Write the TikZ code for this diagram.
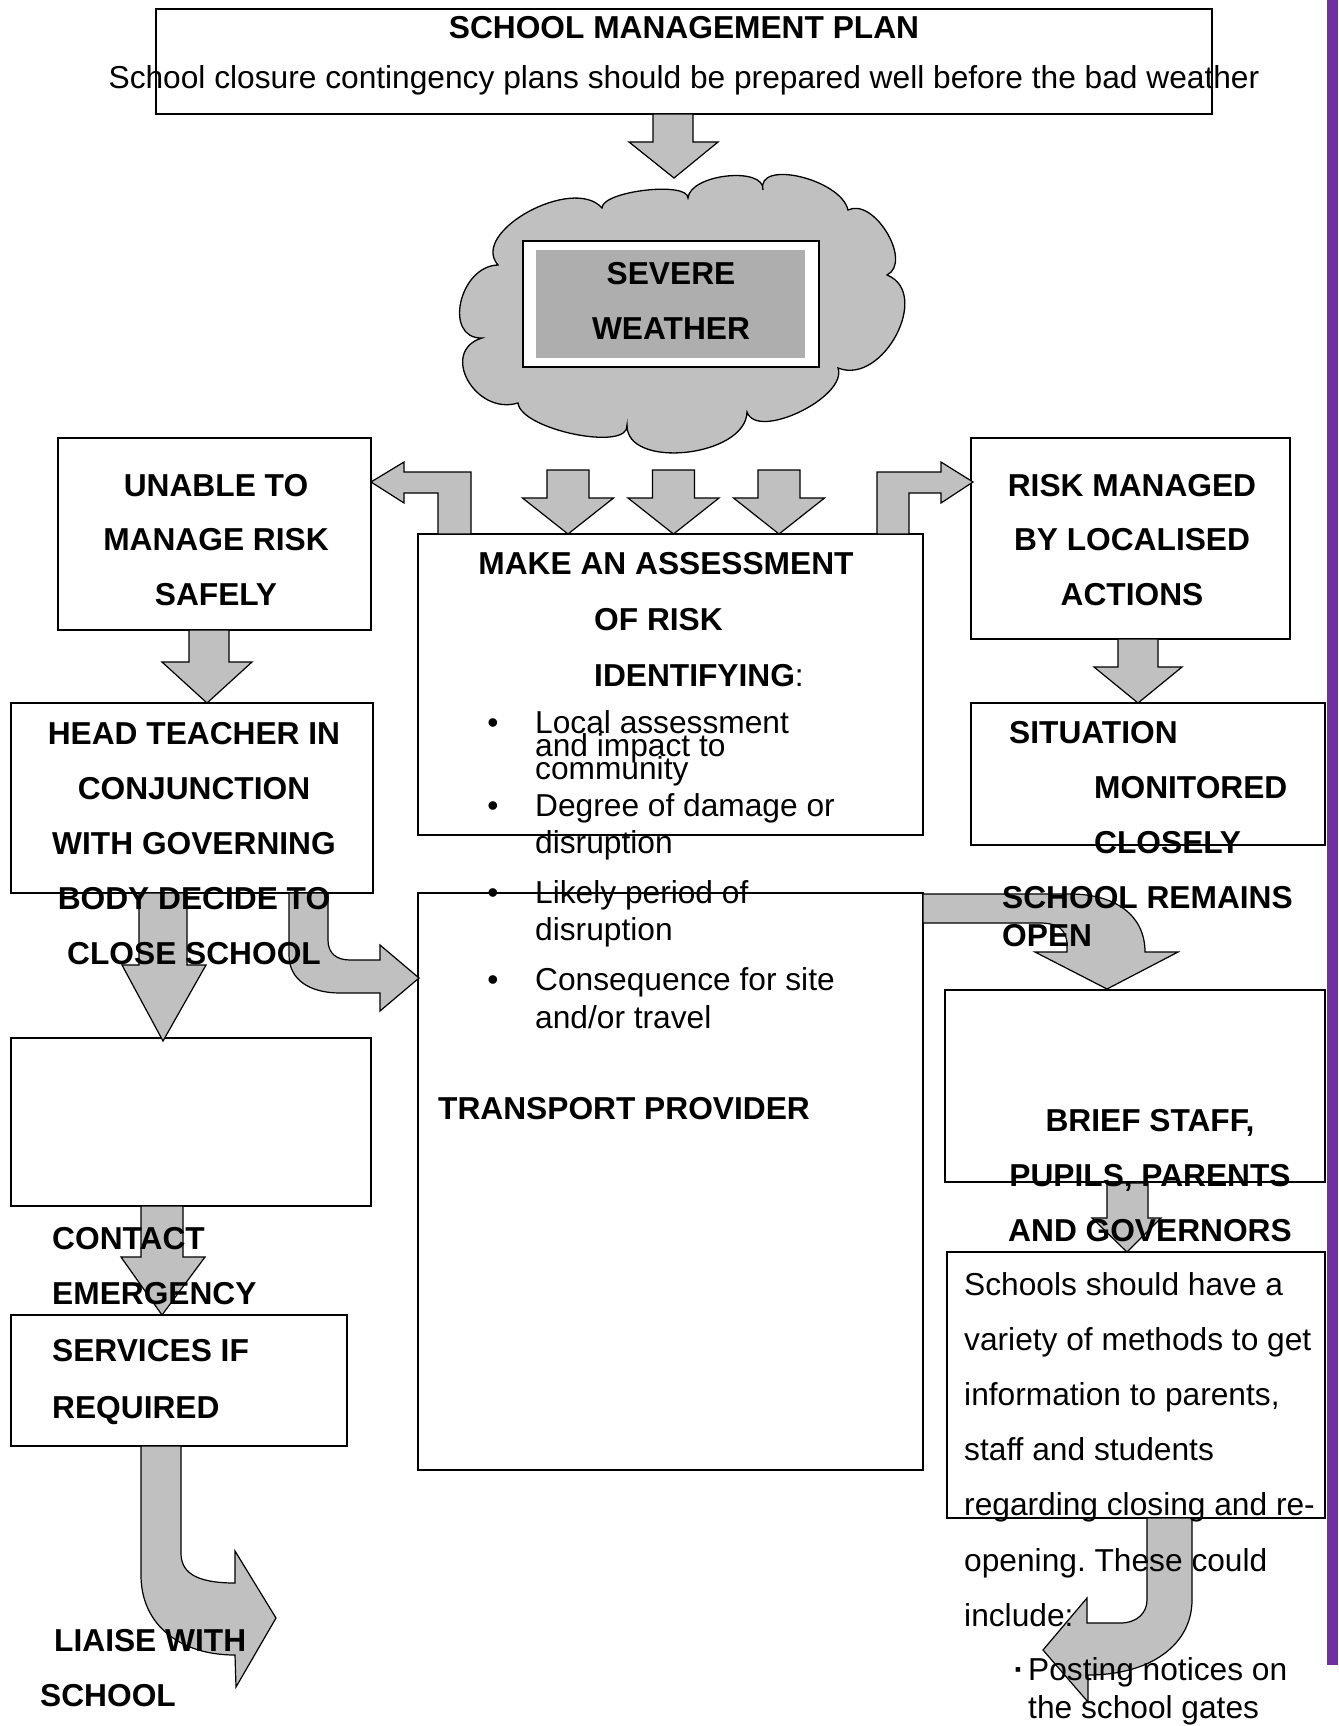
\documentclass[tikz,border=0pt]{standalone}
\usepackage{fontspec}
\setmainfont{Liberation Sans}
\frenchspacing
\newcommand\fsz{\fontsize{31.7}{38}\selectfont}
\definecolor{agray}{HTML}{C0C0C0}
\definecolor{sevgray}{HTML}{AEAEAE}
\definecolor{barpurple}{HTML}{7030A0}
\begin{document}
\begin{tikzpicture}[x=1pt,y=-1pt,
  box/.style={draw=black,line width=1.5pt,inner sep=0pt,outer sep=0pt},
  barrow/.style={fill=agray,draw=black,line width=1.2pt,line join=miter},
  rg/.style={inner sep=0pt,font=\fsz\frenchspacing,anchor=base},
  rgl/.style={rg,anchor=base west},
  bd/.style={inner sep=0pt,font=\fsz\bfseries,anchor=base},
  bdl/.style={bd,anchor=base west}]
\useasboundingbox (0,0) rectangle (1338,1726);
\fill[white] (0,0) rectangle (1338,1726);
\fill[barpurple] (1327,0) rectangle (1338,1665);

% cloud
\path[fill=agray,draw=black,line width=1.3pt]
 (602,208) .. controls (602,191) and (688,181) .. (688,198)
 .. controls (690,174) and (765,166) .. (763,190)
 .. controls (756,159) and (841,179) .. (848,210)
 .. controls (874,197) and (913,262) .. (887,275)
 .. controls (932,293) and (883,386) .. (838,368)
 .. controls (848,397) and (757,441) .. (747,412)
 .. controls (746,457) and (626,470) .. (627,425)
 .. controls (630,452) and (521,430) .. (518,403)
 .. controls (475,416) and (439,351) .. (482,338)
 .. controls (443,339) and (459,266) .. (498,265)
 .. controls (469,232) and (573,175) .. (602,208) -- cycle;
\node[box,fill=white,minimum width=296pt,minimum height=126pt] (sevout) at (671,304) {};
\node[fill=sevgray,inner sep=0pt,minimum width=269pt,minimum height=108pt] (sevin) at (670.5,304) {};

% boxes
\node[box,minimum width=1056pt,minimum height=105pt] (topbox) at (684,61.5) {};
\node[box,minimum width=313pt,minimum height=192pt] (unable) at (214.5,534) {};
\node[box,minimum width=319pt,minimum height=201pt] (riskm) at (1130.5,538.5) {};
\node[box,minimum width=505pt,minimum height=301pt] (assess) at (670.5,684.5) {};
\node[box,minimum width=354pt,minimum height=142pt] (situ) at (1148,774) {};
\node[box,minimum width=362pt,minimum height=190pt] (head) at (192,798) {};
\node[box,minimum width=505pt,minimum height=577pt] (transp) at (670.5,1181.5) {};
\node[box,minimum width=360pt,minimum height=168pt] (empty) at (191,1122) {};
\node[box,minimum width=336pt,minimum height=131pt] (serv) at (179,1380.5) {};
\node[box,minimum width=380pt,minimum height=192pt] (brief) at (1135,1086) {};
\node[box,minimum width=378pt,minimum height=266pt] (schools) at (1136,1385) {};

% block arrows
\path[barrow] (653,114) -- (693,114) -- (693,142) -- (718,142) -- (674,178) -- (629,142) -- (653,142) -- cycle;
\foreach \c in {568,673.5,779}
  \path[barrow] ({\c-21},470) -- ({\c+21},470) -- ({\c+21},498) -- ({\c+45.5},498) -- (\c,534) -- ({\c-45.5},498) -- ({\c-21},498) -- cycle;
\path[barrow] (471,534) -- (471,472) -- (404,472) -- (404,462) -- (371,482) -- (404,503) -- (404,493) -- (438,493) -- (438,534) -- cycle;
\path[barrow] (877,534) -- (877,472) -- (941,472) -- (941,462) -- (973,482) -- (941,503) -- (941,493) -- (909,493) -- (909,534) -- cycle;
\path[barrow] (189,630) -- (229,630) -- (229,662) -- (252,662) -- (207,703) -- (162,662) -- (189,662) -- cycle;
\path[barrow] (1118,639) -- (1158,639) -- (1158,667) -- (1182,667) -- (1138,703) -- (1094,667) -- (1118,667) -- cycle;
\path[barrow] (139,893) -- (187,893) -- (187,965) -- (206,965) -- (163,1041) -- (122,965) -- (139,965) -- cycle;
\path[barrow] (289,893) -- (328,893) -- (328,940) .. controls (328,953) and (336,960) .. (350,960) -- (380,960) -- (380,945) -- (419,978) -- (380,1011) -- (380,993) -- (340,993) .. controls (310,993) and (289,980) .. (289,955) -- cycle;
\path[barrow] (141,1206) -- (183,1206) -- (183,1257) -- (205,1257) -- (162,1315) -- (121,1257) -- (141,1257) -- cycle;
\path[barrow] (141,1446) -- (181,1446) -- (181,1553) .. controls (181,1572) and (195,1583) .. (235,1583) -- (235,1551) -- (276,1618) -- (236,1687) -- (235,1655) .. controls (180,1655) and (141,1625) .. (141,1575) -- cycle;
\path[barrow] (923,894) -- (1070,894) .. controls (1115,894) and (1145,915) .. (1145,952) -- (1178,952) -- (1107,989) -- (1035,952) -- (1067,952) -- (1067,945) .. controls (1067,930) and (1058,923) .. (1040,923) -- (923,923) -- cycle;
\path[barrow] (1107,1183) -- (1148,1183) -- (1148,1218) -- (1161,1218) -- (1127,1252) -- (1092,1218) -- (1107,1218) -- cycle;
\path[barrow] (1147,1518) -- (1192,1518) -- (1192,1600) .. controls (1192,1645) and (1150,1675) .. (1088,1675) -- (1088,1702) -- (1043,1650) -- (1087,1598) -- (1087,1623) -- (1120,1623) .. controls (1138,1623) and (1147,1612) .. (1147,1600) -- cycle;

% texts
\node[bd] (t1) at (684,39) {SCHOOL MANAGEMENT PLAN};
\node[rg] (t2) at (684,89) {School closure contingency plans should be prepared well before the bad weather};
\node[bd] (t3) at (671,284) {SEVERE};
\node[bd] (t4) at (671,339) {WEATHER};
\node[bd] (t5) at (216,496) {UNABLE TO};
\node[bd] (t6) at (216,550) {MANAGE RISK};
\node[bd] (t7) at (216,605) {SAFELY};
\node[bd] (t8) at (1132,496) {RISK MANAGED};
\node[bd] (t9) at (1132,550) {BY LOCALISED};
\node[bd] (t10) at (1132,605) {ACTIONS};
\node[bd] (t11) at (666,574) {MAKE AN ASSESSMENT};
\node[bdl] (t12) at (594,630) {OF RISK};
\node[bdl] (t13) at (594,686) {IDENTIFYING{\mdseries :}};
\node[rg] (b1) at (493,733) {•};
\node[rgl] (t14) at (535,733) {Local assessment};
\node[rgl] (t15) at (535,756) {and impact to};
\node[rgl] (t16) at (535,779) {community};
\node[rg] (b2) at (493,816) {•};
\node[rgl] (t17) at (535,816) {Degree of damage or};
\node[rgl] (t18) at (535,853) {disruption};
\node[rg] (b3) at (493,903) {•};
\node[rgl] (t19) at (535,903) {Likely period of};
\node[rgl] (t20) at (535,940) {disruption};
\node[rg] (b4) at (493,990) {•};
\node[rgl] (t21) at (535,990) {Consequence for site};
\node[rgl] (t22) at (535,1028) {and/or travel};
\node[bdl] (t23) at (438,1119) {TRANSPORT PROVIDER};
\node[bdl] (t24) at (1009,743) {SITUATION};
\node[bdl] (t25) at (1094,798) {MONITORED};
\node[bdl] (t26) at (1094,853) {CLOSELY};
\node[bd] (t27) at (194,744) {HEAD TEACHER IN};
\node[bd] (t28) at (194,799) {CONJUNCTION};
\node[bd] (t29) at (194,854) {WITH GOVERNING};
\node[bd] (t30) at (194,909) {BODY DECIDE TO};
\node[bd] (t31) at (194,964) {CLOSE SCHOOL};
\node[bdl] (t32) at (1002,908) {SCHOOL REMAINS};
\node[bdl] (t33) at (1002,946) {OPEN};
\node[bd] (t34) at (1150,1131) {BRIEF STAFF,};
\node[bd] (t35) at (1150,1186) {PUPILS, PARENTS};
\node[bd] (t36) at (1150,1241) {AND GOVERNORS};
\node[bdl] (t37) at (52,1249) {CONTACT};
\node[bdl] (t38) at (52,1304) {EMERGENCY};
\node[bdl] (t39) at (52,1361) {SERVICES IF};
\node[bdl] (t40) at (52,1418) {REQUIRED};
\node[bdl] (t41) at (54,1651) {LIAISE WITH};
\node[bdl] (t42) at (40,1706) {SCHOOL};
\node[rgl] (t43) at (964,1295) {Schools should have a};
\node[rgl] (t44) at (964,1350) {variety of methods to get};
\node[rgl] (t45) at (964,1405) {information to parents,};
\node[rgl] (t46) at (964,1460) {staff and students};
\node[rgl] (t47) at (964,1515) {regarding closing and re-};
\node[rgl] (t48) at (964,1571) {opening. These could};
\node[rgl] (t49) at (964,1626) {include:};
\node[rg] (b5) at (1019,1680) {\bfseries ·};
\node[rgl] (t50) at (1028,1680) {Posting notices on};
\node[rgl] (t51) at (1028,1718) {the school gates};
\end{tikzpicture}
\end{document}
